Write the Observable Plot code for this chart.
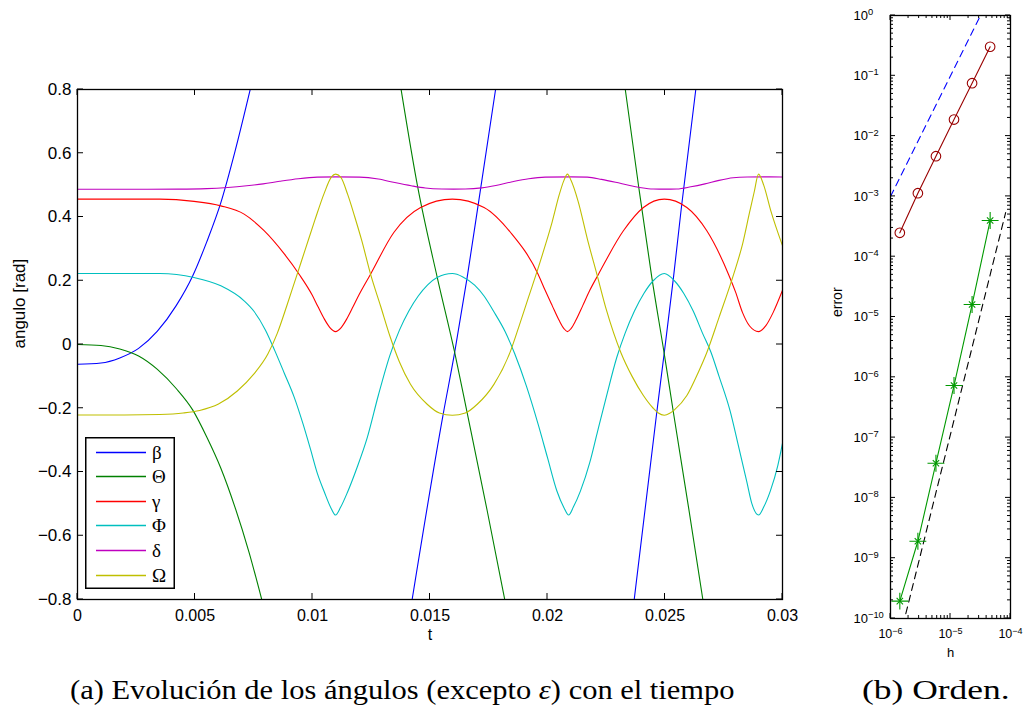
<!DOCTYPE html>
<html><head><meta charset="utf-8">
<script src="https://cdn.jsdelivr.net/npm/d3@7"></script>
<script src="https://cdn.jsdelivr.net/npm/@observablehq/plot@0.6"></script>
<style>
html,body{margin:0;padding:0;background:#fff;}
body{width:1023px;height:720px;position:relative;overflow:hidden;font-family:"Liberation Sans",Arial,sans-serif;}
#left{position:absolute;left:0;top:0;}
#right{position:absolute;left:820px;top:0;}
#legend{position:absolute;left:85px;top:437px;width:90px;height:152px;}
.cap{position:absolute;white-space:nowrap;font-family:"Liberation Serif","Times New Roman",Times,"Nimbus Roman",serif;font-size:28px;line-height:34px;top:673px;color:#000;transform-origin:0 50%;}
</style></head><body>
<div id="left"></div>
<div id="right"></div>
<div id="legend"></div>
<div class="cap" id="capA">(a) Evolución de los ángulos (excepto <i>ε</i>) con el tiempo</div>
<div class="cap" id="capB">(b) Orden.</div>
<script>
// ---------- Panel (a): angles vs time ----------
const tTicks = [0, 0.005, 0.01, 0.015, 0.02, 0.025, 0.03];
const vTicks = [-0.8, -0.6, -0.4, -0.2, 0, 0.2, 0.4, 0.6, 0.8];
const seriesNames = ["β", "Θ", "γ", "Φ", "δ", "Ω"];
const seriesColors = ["#0000ff", "#008000", "#ff0000", "#00bfbf", "#bf00bf", "#bfbf00"];

// β (null separates the visible pieces)
const beta_t = [0, 0.001, 0.0018, 0.0026, 0.0034, 0.0042, 0.0049, 0.0055, 0.0061, 0.0067, 0.00735, null,
  0.01424, 0.01556, 0.01605, 0.01658, 0.01705, 0.01779, null,
  0.02369, 0.02464, 0.02497, 0.02536, 0.02569, 0.02631];
const beta_v = [-0.062, -0.058, -0.042, -0.012, 0.042, 0.122, 0.215, 0.322, 0.445, 0.605, 0.80, null,
  -0.8, -0.219, -0.025, 0.21, 0.438, 0.8, null,
  -0.8, -0.219, -0.025, 0.21, 0.425, 0.8];
// Θ
const theta_t = [0, 0.001, 0.0018, 0.0026, 0.0034, 0.0042, 0.0049, 0.0055, 0.0061, 0.0067, 0.0073, 0.00784, null,
  0.01377, 0.01448, 0.01531, 0.01605, 0.01658, 0.01743, 0.01818, null,
  0.02331, 0.02388, 0.02444, 0.02497, 0.02536, 0.026, 0.02661];
const theta_v = [0, -0.003, -0.014, -0.036, -0.078, -0.138, -0.205, -0.29, -0.388, -0.51, -0.652, -0.8, null,
  0.8, 0.4927, 0.21, -0.025, -0.214, -0.52, -0.8, null,
  0.8, 0.495, 0.21, -0.03, -0.214, -0.51, -0.8];
// γ
const gamma_t = [0, 0.0035, 0.00496, 0.0061, 0.00709, 0.00794, 0.00879, 0.00943,
  0.00998, 0.01023, 0.01048, 0.01073, 0.01098, 0.01123, 0.01148, 0.01173, 0.01198,
  0.01247, 0.01346, 0.0146, 0.01595, 0.0173, 0.01843, 0.0196,
  0.0199, 0.0202, 0.0205, 0.0207, 0.02085, 0.021, 0.0212, 0.0215, 0.0218,
  0.02217, 0.02323, 0.02408, 0.02497, 0.02593, 0.02678, 0.0277,
  0.028, 0.0283, 0.0286, 0.02898, 0.0293, 0.0296, 0.03];
const gamma_v = [0.456, 0.456, 0.449, 0.435, 0.409, 0.357, 0.285, 0.2206,
  0.156, 0.119, 0.083, 0.054, 0.0405, 0.054, 0.083, 0.119, 0.156,
  0.2206, 0.3513, 0.4298, 0.456, 0.4298, 0.3513, 0.2206,
  0.17, 0.122, 0.075, 0.05, 0.0405, 0.05, 0.075, 0.122, 0.17,
  0.2206, 0.3567, 0.4298, 0.456, 0.4298, 0.3567, 0.2206,
  0.165, 0.10, 0.058, 0.0405, 0.06, 0.10, 0.17];
// Φ
const phi_t = [0, 0.0035, 0.00496, 0.0061, 0.00709, 0.0075, 0.008, 0.0084, 0.0088, 0.00922,
  0.0096, 0.00992, 0.01021, 0.0105, 0.0108, 0.01098, 0.0112, 0.01148, 0.0119, 0.01233,
  0.0128, 0.01329, 0.0137, 0.0141, 0.0145, 0.0149, 0.0153, 0.01595, 0.0164, 0.0169,
  0.0173, 0.0177, 0.0182, 0.01861, 0.0191, 0.0196, 0.02, 0.0204, 0.0207, 0.0209,
  0.0211, 0.0214, 0.0218, 0.0221, 0.0225, 0.02295, 0.0233, 0.0237, 0.0241, 0.0245,
  0.02497, 0.0254, 0.0258, 0.0262, 0.0266, 0.02696, 0.0273, 0.02777, 0.0281, 0.02848,
  0.0287, 0.02898, 0.0292, 0.02948, 0.0298, 0.03];
const phi_v = [0.2226, 0.2226, 0.2101, 0.184, 0.137, 0.105, 0.045, -0.02, -0.09, -0.165,
  -0.25, -0.33, -0.405, -0.462, -0.515, -0.535, -0.51, -0.465, -0.385, -0.292,
  -0.16, -0.035, 0.045, 0.105, 0.152, 0.187, 0.21, 0.2226, 0.212, 0.186,
  0.152, 0.105, 0.04, -0.03, -0.13, -0.25, -0.355, -0.4595, -0.512, -0.535,
  -0.51, -0.46, -0.37, -0.2816, -0.165, -0.04, 0.035, 0.105, 0.16, 0.2,
  0.2226, 0.2, 0.16, 0.105, 0.035, -0.025, -0.1, -0.2084, -0.31, -0.43,
  -0.5, -0.535, -0.51, -0.46, -0.38, -0.31];
// δ
const delta_t = [0, 0.002, 0.0043, 0.0055, 0.0064, 0.0072, 0.0079, 0.0086, 0.0094, 0.0102,
  0.011, 0.012, 0.0128, 0.0135, 0.0142, 0.0148, 0.0155, 0.016, 0.0165, 0.0172,
  0.0178, 0.0185, 0.0192, 0.0199, 0.021, 0.0217, 0.0223, 0.0229, 0.0235, 0.024,
  0.0245, 0.025, 0.0255, 0.0261, 0.0267, 0.0273, 0.0279, 0.0285, 0.0292, 0.03];
const delta_v = [0.487, 0.487, 0.4875, 0.489, 0.4927, 0.498, 0.504, 0.512, 0.520, 0.525,
  0.526, 0.525, 0.519, 0.508, 0.498, 0.491, 0.4878, 0.4874, 0.4878, 0.4915,
  0.499, 0.5105, 0.520, 0.525, 0.526, 0.525, 0.518, 0.509, 0.499, 0.492,
  0.488, 0.4874, 0.488, 0.4948, 0.504, 0.515, 0.523, 0.5255, 0.526, 0.5255];
// Ω
const omega_t = [0, 0.002, 0.0035, 0.0045, 0.0052, 0.006, 0.0068, 0.0075, 0.0081, 0.0085,
  0.0089, 0.0093, 0.0097, 0.0101, 0.0105, 0.0108, 0.01098, 0.0112, 0.0115, 0.0118,
  0.0121, 0.01247, 0.0129, 0.0133, 0.0137, 0.01417, 0.01488, 0.0154, 0.01595, 0.0165,
  0.01701, 0.01772, 0.01843, 0.0188, 0.0192, 0.01956, 0.0199, 0.0202, 0.0205, 0.0207,
  0.02085, 0.021, 0.0213, 0.0217, 0.0221, 0.0225, 0.02312, 0.0236, 0.02408, 0.0245,
  0.0247, 0.02497, 0.0252, 0.0254, 0.02593, 0.0264, 0.02678, 0.0273, 0.02792, 0.0283,
  0.0286, 0.0288, 0.02898, 0.0292, 0.0295, 0.03];
const omega_v = [-0.221, -0.221, -0.2195, -0.215, -0.207, -0.187, -0.146, -0.093, -0.03, 0.035,
  0.12, 0.21, 0.30, 0.39, 0.475, 0.525, 0.5345, 0.525, 0.47, 0.40,
  0.325, 0.2206, 0.12, 0.025, -0.055, -0.125, -0.1875, -0.215, -0.222, -0.215,
  -0.1875, -0.125, -0.02, 0.06, 0.15, 0.23, 0.31, 0.385, 0.47, 0.515,
  0.5345, 0.515, 0.45, 0.33, 0.2206, 0.11, -0.025, -0.1, -0.16, -0.2,
  -0.214, -0.222, -0.216, -0.205, -0.16, -0.09, -0.025, 0.085, 0.22, 0.315,
  0.415, 0.48, 0.5345, 0.50, 0.42, 0.31];

// ---------- Panel (b): convergence order ----------
const hVals = [1.43e-6, 2.86e-6, 5.72e-6, 1.144e-5, 2.289e-5, 4.578e-5];
const errCircles = [2.49e-4, 1.13e-3, 4.64e-3, 1.88e-2, 7.54e-2, 0.303];
const errStars = [1.94e-10, 1.91e-9, 3.76e-8, 7.31e-7, 1.61e-5, 3.98e-4];
const slope2_h = [1e-6, 3.16e-5];
const slope2_e = [1e-3, 1];
const slope4_h = [1.8e-6, 8.3e-5];
const slope4_e = [1.2e-10, 5.4e-4];
const hTicks = [1e-6, 1e-5, 1e-4];
const errTicks = [1e-10, 1e-9, 1e-8, 1e-7, 1e-6, 1e-5, 1e-4, 1e-3, 1e-2, 1e-1, 1];

// ---------- helpers ----------
const rows = (X, Y, kx, ky) => X.map((x, i) => ({[kx]: x, [ky]: Y[i]}));
const SANS = '"Liberation Sans", Arial, Helvetica, sans-serif';
const SERIF = '"Liberation Serif", "Times New Roman", Times, serif';

function boxTicks(xt, yt) {
  // xt, yt: [value, length] pairs; inward ticks on all four sides of the frame
  return (index, scales, values, dim) => {
    const top = dim.marginTop, bottom = dim.height - dim.marginBottom;
    const left = dim.marginLeft, right = dim.width - dim.marginRight;
    let p = "";
    for (const [v, l] of xt) { const px = scales.x(v); p += `M${px},${bottom}v${-l}M${px},${top}v${l}`; }
    for (const [v, l] of yt) { const py = scales.y(v); p += `M${left},${py}h${l}M${right},${py}h${-l}`; }
    return d3.create("svg:path").attr("d", p).attr("fill", "none").attr("stroke", "#000").attr("stroke-width", 1).node();
  };
}

const seriesT = [beta_t, theta_t, gamma_t, phi_t, delta_t, omega_t];
const seriesV = [beta_v, theta_v, gamma_v, phi_v, delta_v, omega_v];

const fmtT = d => d === 0 ? "0" : String(+d.toFixed(3));
const fmtV = d => d === 0 ? "0" : (d < 0 ? "\u2212" : "") + Math.abs(d).toFixed(1);

const left = Plot.plot({
  width: 800, height: 665,
  marginLeft: 77, marginRight: 18, marginTop: 89, marginBottom: 66,
  style: {fontFamily: SANS, fontSize: "16px", color: "#000", background: "transparent", overflow: "visible"},
  x: {domain: [0, 0.03], label: null},
  y: {domain: [-0.8, 0.8], label: null},
  marks: [
    ...seriesT.map((T, i) => Plot.line(rows(T, seriesV[i], "t", "v"), {
      x: "t", y: "v", stroke: seriesColors[i], strokeWidth: 1.1, curve: "monotone-x", clip: true
    })),
    Plot.frame({stroke: "#000", strokeWidth: 1.3}),
    boxTicks(tTicks.map(v => [v, 6]), vTicks.map(v => [v, 6])),
    Plot.axisX({ticks: tTicks, tickFormat: fmtT, tickSize: 0, tickPadding: 10, fontSize: 16, label: null}),
    Plot.axisY({ticks: vTicks, tickFormat: fmtV, tickSize: 0, tickPadding: 6, fontSize: 17, label: null}),
    Plot.text(["angulo [rad]"], {text: d => d, frameAnchor: "left", dx: -58, dy: 4, rotate: -90, fontSize: 17}),
    Plot.text(["t"], {text: d => d, frameAnchor: "bottom", dy: 40, fontSize: 16})
  ]
});
document.getElementById("left").appendChild(left);

// minor ticks for the log panel
const minor = [];
for (let e = -10; e < 0; e++) for (let m = 2; m <= 9; m++) minor.push(m * Math.pow(10, e));
const minorH = [];
for (let e = -6; e < -4; e++) for (let m = 2; m <= 9; m++) minorH.push(m * Math.pow(10, e));
const expFmt = d => { const e = Math.round(Math.log10(d)); return e < 0 ? "\u2212" + (-e) : String(e); };

const right = Plot.plot({
  width: 203, height: 670,
  marginLeft: 70, marginRight: 13, marginTop: 15, marginBottom: 52,
  style: {fontFamily: SANS, fontSize: "13px", color: "#000", background: "transparent", overflow: "visible"},
  x: {type: "log", domain: [1e-6, 1e-4], label: null},
  y: {type: "log", domain: [1e-10, 1], label: null},
  marks: [
    Plot.line(rows(slope2_h, slope2_e, "h", "e"), {x: "h", y: "e", stroke: "#0000ff", strokeWidth: 1.1, strokeDasharray: "7,5", clip: true}),
    Plot.line(rows(slope4_h, slope4_e, "h", "e"), {x: "h", y: "e", stroke: "#000", strokeWidth: 1.1, strokeDasharray: "7,5", clip: true}),
    Plot.line(rows(hVals, errCircles, "h", "e"), {x: "h", y: "e", stroke: "#990000", strokeWidth: 1.1}),
    Plot.dot(rows(hVals, errCircles, "h", "e"), {x: "h", y: "e", r: 4.8, stroke: "#990000", fill: "none", strokeWidth: 1.1}),
    Plot.line(rows(hVals, errStars, "h", "e"), {x: "h", y: "e", stroke: "#009900", strokeWidth: 1.1}),
    Plot.dot(rows(hVals, errStars, "h", "e"), {x: "h", y: "e", r: 5.5, symbol: "plus", stroke: "#009900", strokeWidth: 1.1}),
    Plot.dot(rows(hVals, errStars, "h", "e"), {x: "h", y: "e", r: 3.0, symbol: "times", stroke: "#009900", strokeWidth: 1.1}),
    Plot.frame({stroke: "#000", strokeWidth: 1.3}),
    boxTicks([...hTicks.map(v => [v, 5]), ...minorH.map(v => [v, 3])],
             [...errTicks.map(v => [v, 5]), ...minor.map(v => [v, 3])]),
    Plot.axisX({ticks: hTicks, tickFormat: expFmt, tickSize: 0, tickPadding: 11, fontSize: 12.5, label: null}),
    Plot.axisY({ticks: errTicks, tickFormat: expFmt, tickSize: 0, tickPadding: 0, dx: -37, textAnchor: "start", fontSize: 13, label: null}),
    Plot.text(["error"], {text: d => d, frameAnchor: "left", dx: -53, rotate: -90, fontSize: 14}),
    Plot.text(["h"], {text: d => d, frameAnchor: "bottom", dy: 38, fontSize: 13})
  ]
});
// exponent labels: "10" followed by a raised exponent
right.querySelectorAll('g[aria-label="y-axis tick label"] text, g[aria-label="x-axis tick label"] text').forEach(t => {
  const e = t.textContent;
  t.textContent = "10";
  const s = document.createElementNS("http://www.w3.org/2000/svg", "tspan");
  s.setAttribute("dy", "-0.5em");
  s.setAttribute("font-size", "0.72em");
  s.textContent = e;
  t.appendChild(s);
});
document.getElementById("right").appendChild(right);

// legend (small SVG box overlaid on the lower-left corner of panel a)
const lsvg = d3.select("#legend").append("svg").attr("width", 90).attr("height", 152);
lsvg.append("rect").attr("x", 0.75).attr("y", 0.75).attr("width", 88.5).attr("height", 150.5)
  .attr("fill", "#fff").attr("stroke", "#000").attr("stroke-width", 1.5);
seriesNames.forEach((n, i) => {
  const cy = Math.round(14.5 + i * 24.6) + 0.5;
  lsvg.append("line").attr("x1", 11).attr("x2", 61).attr("y1", cy).attr("y2", cy)
    .attr("stroke", seriesColors[i]).attr("stroke-width", 1.3);
  lsvg.append("text").attr("x", 67).attr("y", cy).attr("dy", "0.35em")
    .attr("font-family", SERIF).attr("font-size", 19).attr("fill", "#000").text(n);
});

// captions: stretch to the span they occupy in the reference
function place(id, x0, x1) {
  const el = document.getElementById(id);
  const w = el.offsetWidth;
  el.style.left = x0 + "px";
  el.style.transform = `scaleX(${(x1 - x0) / w})`;
}
place("capA", 70, 735);
place("capB", 862, 1010);
</script>
</body></html>
